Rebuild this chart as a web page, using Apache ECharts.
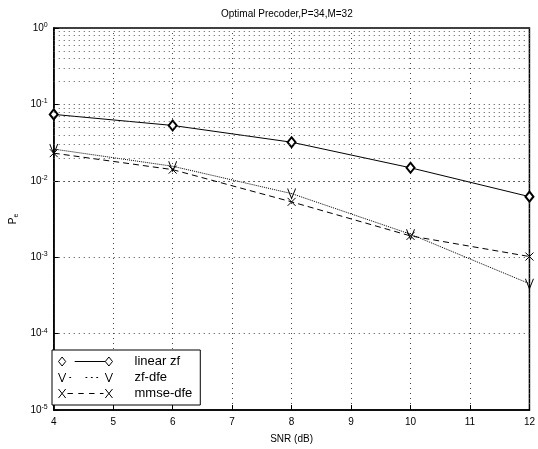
<!DOCTYPE html>
<html>
<head>
<meta charset="utf-8">
<script src="https://cdn.jsdelivr.net/npm/echarts@6/dist/echarts.min.js"></script>
<style>
  html, body { margin: 0; padding: 0; background: #fff; }
  #chart { width: 538px; height: 449px; }
</style>
</head>
<body>
<div id="chart"></div>
<script>
// SNR points (dB)
const snr = [4, 6, 8, 10, 12];
// error probability per receiver
const linearZf = [0.074, 0.053, 0.032, 0.0148, 0.0062];
const zfDfe = [0.026, 0.0155, 0.0068, 0.0020, 0.00045];
const mmseDfe = [0.023, 0.014, 0.0053, 0.0019, 0.00102];
// minor grid lines inside each decade
const minorGrid = [];
[-5, -4, -3, -2, -1].forEach(e => {
  for (let m = 2; m <= 9; m++) minorGrid.push(m * Math.pow(10, e));
});

const font = 'Liberation Sans';
const pair = (xs, ys) => xs.map((x, i) => [x, ys[i]]);

let myChart = echarts.init(document.getElementById('chart'));
myChart.setOption({
  animation: false,
  backgroundColor: '#fff',
  title: {
    text: 'Optimal Precoder,P=34,M=32',
    left: 216,
    top: 4,
    textStyle: { fontFamily: font, fontSize: 10, fontWeight: 'normal', color: '#000' }
  },
  grid: {
    left: 42, right: 5, top: 28, bottom: 38,
    show: true, borderColor: '#000', borderWidth: 1.5
  },
  legend: {
    orient: 'vertical',
    left: 52, top: 350,
    backgroundColor: '#fff',
    borderColor: '#000', borderWidth: 1,
    padding: [5, 8, 5, 6],
    itemGap: 3,
    itemWidth: 60, itemHeight: 9,
    textStyle: { fontFamily: font, fontSize: 13, color: '#000', padding: [0, 0, 0, 14] },
    data: [
      { name: 'linear zf', icon: 'path://M0,5 L4,0 L8,5 L4,10 Z M18,5 L52,5 M52,5 L56,0 L60,5 L56,10 Z',
        itemStyle: { color: 'rgba(0,0,0,0)', borderColor: '#000', borderWidth: 1 } },
      { name: 'zf-dfe', icon: 'path://M0,0 L4,10 L8,0 M12,5 L14,5 M30,5 L32,5 M36,5 L38,5 M42,5 L44,5 M52,0 L56,10 L60,0',
        itemStyle: { color: 'rgba(0,0,0,0)', borderColor: '#000', borderWidth: 1 } },
      { name: 'mmse-dfe', icon: 'path://M0,0 L8,10 M0,10 L8,0 M10,5 L16,5 M22,5 L28,5 M34,5 L40,5 M46,5 L50,5 M52,0 L60,10 M52,10 L60,0',
        itemStyle: { color: 'rgba(0,0,0,0)', borderColor: '#000', borderWidth: 1 } }
    ]
  },
  xAxis: {
    type: 'value',
    min: 4, max: 12, interval: 1,
    name: 'SNR (dB)',
    nameLocation: 'middle',
    nameGap: 24,
    nameTextStyle: { fontFamily: font, fontSize: 10, color: '#000' },
    axisLine: { lineStyle: { color: '#000', width: 1.5 } },
    axisTick: { inside: true, length: 5, lineStyle: { color: '#000' } },
    axisLabel: { fontFamily: font, fontSize: 10, color: '#000', margin: 7 },
    splitLine: { show: true, lineStyle: { color: '#444', type: [1, 4], width: 1 } }
  },
  yAxis: {
    type: 'log',
    logBase: 10,
    min: 1e-5, max: 1,
    name: 'P{sub|e}',
    nameLocation: 'middle',
    nameGap: 20,
    nameRotate: 90,
    nameTextStyle: {
      fontFamily: font, fontSize: 10, color: '#000',
      rich: { sub: { fontSize: 7, verticalAlign: 'bottom', padding: [6, 0, 0, 0] } }
    },
    axisLine: { lineStyle: { color: '#000', width: 1.5 } },
    axisTick: { inside: true, length: 5, lineStyle: { color: '#000' } },
    axisLabel: {
      fontFamily: font, fontSize: 10, color: '#000', margin: 6,
      formatter: v => '10{sup|' + Math.round(Math.log10(v)) + '}',
      rich: { sup: { fontSize: 7, verticalAlign: 'top', padding: [0, 0, 6, 0] } }
    },
    splitLine: { show: true, lineStyle: { color: '#444', type: [1, 4], width: 1 } }
  },
  series: [
    {
      name: 'linear zf',
      type: 'line',
      data: pair(snr, linearZf),
      symbol: 'emptyDiamond',
      symbolSize: [8, 10],
      lineStyle: { color: '#000', width: 1 },
      itemStyle: { color: '#000', borderColor: '#000', borderWidth: 1 },
      markLine: {
        silent: true,
        symbol: 'none',
        label: { show: false },
        lineStyle: { color: '#555', type: [1, 4], width: 1 },
        data: minorGrid.map(v => ({ yAxis: v }))
      }
    },
    {
      name: 'zf-dfe',
      type: 'line',
      data: pair(snr, zfDfe),
      symbol: 'path://M0,0 L5,10 L10,0',
      symbolSize: [8, 10],
      lineStyle: { color: '#000', width: 1, type: 'dotted' },
      itemStyle: { color: 'rgba(0,0,0,0)', borderColor: '#000', borderWidth: 1 }
    },
    {
      name: 'mmse-dfe',
      type: 'line',
      data: pair(snr, mmseDfe),
      symbol: 'path://M0,0 L10,10 M0,10 L10,0',
      symbolSize: 8,
      lineStyle: { color: '#000', width: 1, type: [6, 4] },
      itemStyle: { color: 'rgba(0,0,0,0)', borderColor: '#000', borderWidth: 1 }
    }
  ]
});
</script>
</body>
</html>
